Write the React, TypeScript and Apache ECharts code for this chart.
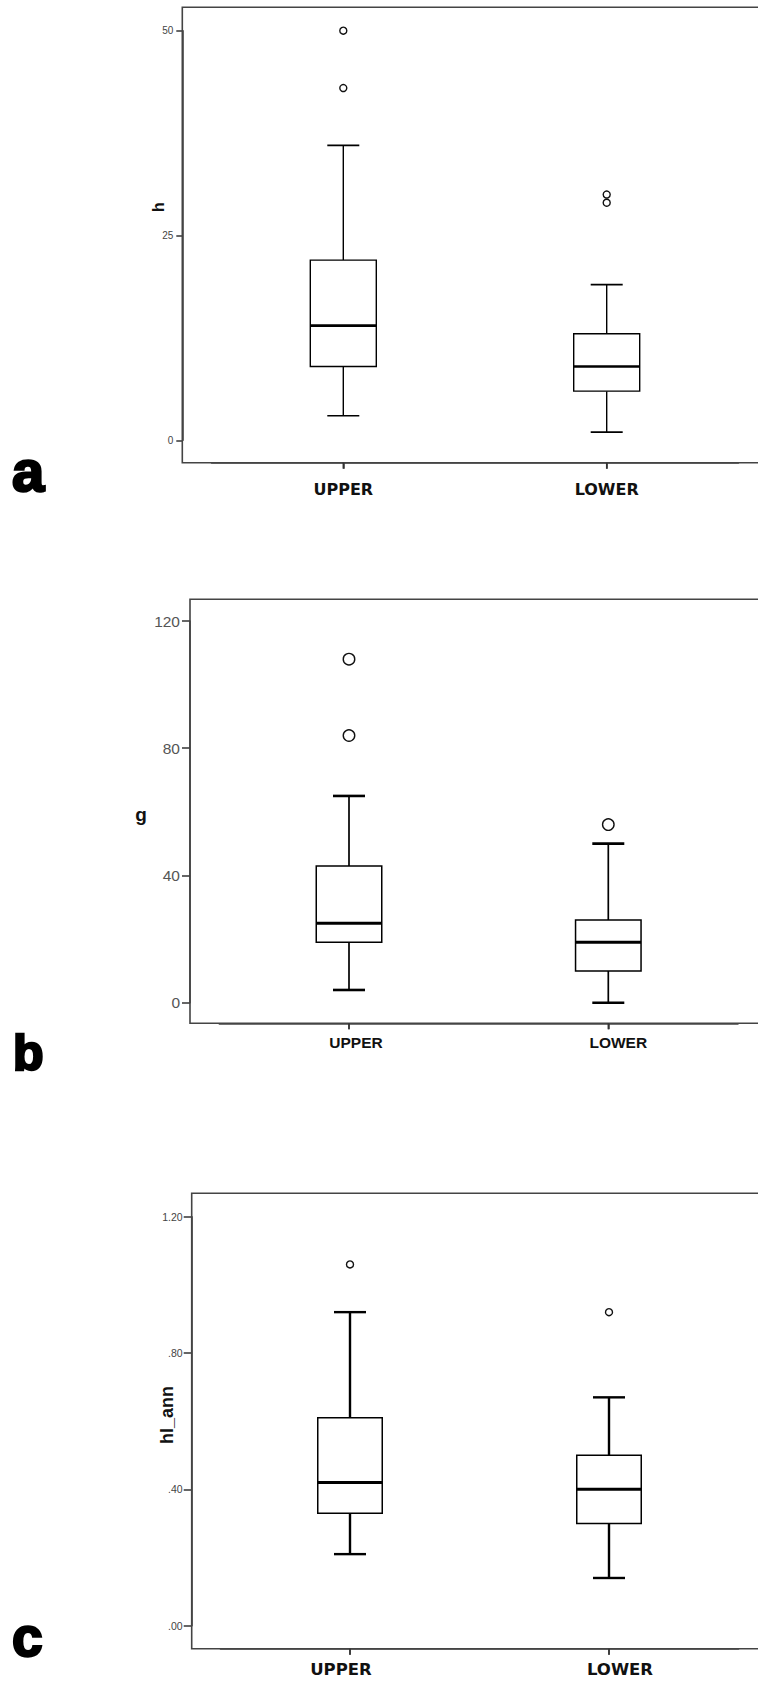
import React, { useEffect, useRef } from "react";
import * as echarts from "echarts";

// ---------- data ----------
const CATEGORIES = ["UPPER", "LOWER"];

// [low whisker, Q1, median, Q3, high whisker] per category
const H_BOX = [
  [3, 9, 14, 22, 36],
  [1, 6, 9, 13, 19],
];
const H_OUTLIERS = [[50, 43], [30, 29]];
const H_TICKS = [0, 25, 50];

const G_BOX = [
  [4, 19, 25, 43, 65],
  [0, 10, 19, 26, 50],
];
const G_OUTLIERS = [[108, 84], [56]];
const G_TICKS = [0, 40, 80, 120];

const HL_BOX = [
  [0.21, 0.33, 0.42, 0.61, 0.92],
  [0.14, 0.3, 0.4, 0.5, 0.67],
];
const HL_OUTLIERS = [[1.06], [0.92]];
const HL_TICKS = [0, 0.4, 0.8, 1.2];

// ---------- layout / style ----------
type Panel = {
  letter: string;
  yName: string;
  box: number[][];
  out: number[][];
  ticks: number[];
  fmt: (v: number) => string;
  frameL: number;
  frameT: number;
  frameB: number;
  gridTop: number;
  gridH: number;
  c0: number;
  c1: number;
  boxW: number;
  capW: number;
  boxLW: number;
  whiskLW: number;
  capLW: number;
  medLW: number;
  symSize: number;
  yLabelSize: number;
  yLabelColor: string;
  yTickLen: number;
  yLabelMargin: number;
  xFont: string;
  xFontSize: number;
  xMargin: number;
  xPads: number[][];
  nameX: number;
  nameY: number;
  nameSize: number;
  nameRot: number;
  letterX: number;
  letterY: number;
  letterSize: number;
};

const PANELS: Panel[] = [
  {
    letter: "a",
    yName: "h",
    box: H_BOX,
    out: H_OUTLIERS,
    ticks: H_TICKS,
    fmt: (v) => String(v),
    frameL: 182.3,
    frameT: 7.3,
    frameB: 462.7,
    gridTop: 30.7,
    gridH: 409.6,
    c0: 343.3,
    c1: 606.7,
    boxW: 66,
    capW: 32,
    boxLW: 1.4,
    whiskLW: 1.4,
    capLW: 1.6,
    medLW: 2.6,
    symSize: 7,
    yLabelSize: 10,
    yLabelColor: "#444",
    yTickLen: 6,
    yLabelMargin: 9,
    xFont: "DejaVu Sans",
    xFontSize: 16,
    xMargin: 19,
    xPads: [[0, 0, 0, 0], [0, 0, 0, 0]],
    nameX: 158,
    nameY: 207,
    nameSize: 16,
    nameRot: Math.PI / 2,
    letterX: 12,
    letterY: 470,
    letterSize: 58,
  },
  {
    letter: "b",
    yName: "g",
    box: G_BOX,
    out: G_OUTLIERS,
    ticks: G_TICKS,
    fmt: (v) => String(v),
    frameL: 190,
    frameT: 599.3,
    frameB: 1023.3,
    gridTop: 621,
    gridH: 381.7,
    c0: 349,
    c1: 608.3,
    boxW: 65.5,
    capW: 32,
    boxLW: 1.5,
    whiskLW: 1.7,
    capLW: 2.6,
    medLW: 3,
    symSize: 11.5,
    yLabelSize: 15.5,
    yLabelColor: "#555",
    yTickLen: 8,
    yLabelMargin: 10,
    xFont: "Liberation Sans",
    xFontSize: 15.5,
    xMargin: 11,
    xPads: [[0, 0, 0, 14], [0, 0, 0, 20]],
    nameX: 141,
    nameY: 814,
    nameSize: 19,
    nameRot: 0,
    letterX: 13,
    letterY: 1053,
    letterSize: 50,
  },
  {
    letter: "c",
    yName: "hl_ann",
    box: HL_BOX,
    out: HL_OUTLIERS,
    ticks: HL_TICKS,
    fmt: (v) => {
      const s = v.toFixed(2);
      return s.startsWith("0") ? s.slice(1) : s;
    },
    frameL: 191.7,
    frameT: 1193.3,
    frameB: 1648.7,
    gridTop: 1216.7,
    gridH: 409,
    c0: 350,
    c1: 609,
    boxW: 64.5,
    capW: 32,
    boxLW: 1.5,
    whiskLW: 2.4,
    capLW: 2.4,
    medLW: 3,
    symSize: 7,
    yLabelSize: 10.5,
    yLabelColor: "#444",
    yTickLen: 8,
    yLabelMargin: 9,
    xFont: "DejaVu Sans",
    xFontSize: 16.5,
    xMargin: 12,
    xPads: [[0, 18, 0, 0], [0, 0, 0, 22]],
    nameX: 167,
    nameY: 1415,
    nameSize: 18,
    nameRot: Math.PI / 2,
    letterX: 12,
    letterY: 1637,
    letterSize: 55,
  },
];

const FRAME_COLOR = "#444";
const X_TICK_LEN = 6;

function makeRender(p: Panel) {
  return (params: any, api: any) => {
    const i = api.value(0);
    const low = api.coord([i, api.value(1)]);
    const q1 = api.coord([i, api.value(2)]);
    const med = api.coord([i, api.value(3)]);
    const q3 = api.coord([i, api.value(4)]);
    const high = api.coord([i, api.value(5)]);
    const cx = med[0];
    const hb = p.boxW / 2;
    const hc = p.capW / 2;
    const stroke = "#000";
    return {
      type: "group",
      children: [
        { type: "line", shape: { x1: cx, y1: q3[1], x2: cx, y2: high[1] }, style: { stroke, lineWidth: p.whiskLW } },
        { type: "line", shape: { x1: cx, y1: q1[1], x2: cx, y2: low[1] }, style: { stroke, lineWidth: p.whiskLW } },
        { type: "line", shape: { x1: cx - hc, y1: high[1], x2: cx + hc, y2: high[1] }, style: { stroke, lineWidth: p.capLW } },
        { type: "line", shape: { x1: cx - hc, y1: low[1], x2: cx + hc, y2: low[1] }, style: { stroke, lineWidth: p.capLW } },
        {
          type: "rect",
          shape: { x: cx - hb, y: q3[1], width: p.boxW, height: q1[1] - q3[1] },
          style: { fill: "#fff", stroke, lineWidth: p.boxLW },
        },
        { type: "line", shape: { x1: cx - hb, y1: med[1], x2: cx + hb, y2: med[1] }, style: { stroke, lineWidth: p.medLW } },
      ],
    };
  };
}

// category tick marks below the frame, positioned by the category axis
function renderXTick(params: any, api: any) {
  const pt = api.coord([api.value(0), 0]);
  return {
    type: "line",
    shape: { x1: pt[0], y1: pt[1], x2: pt[0], y2: pt[1] + X_TICK_LEN },
    style: { stroke: "#333", lineWidth: 1.5 },
  };
}

function buildOption() {
  const grid: any[] = [];
  const xAxis: any[] = [];
  const yAxis: any[] = [];
  const series: any[] = [];
  const graphic: any[] = [];

  PANELS.forEach((p, idx) => {
    const sp = p.c1 - p.c0;
    const gridLeft = p.c0 - sp / 2;
    const gridW = sp * 2;
    const dataG = idx * 3;
    const yG = idx * 3 + 1;
    const xG = idx * 3 + 2;
    const t = p.ticks;
    const yMin = t[0];
    const yMax = t[t.length - 1];
    const yInt = t[1] - t[0];

    grid.push({ left: gridLeft, top: p.gridTop, width: gridW, height: p.gridH });
    grid.push({ left: p.frameL, top: p.gridTop, width: 500, height: p.gridH });
    grid.push({ left: gridLeft, top: p.gridTop, width: gridW, height: p.frameB - p.gridTop });

    xAxis.push({ gridIndex: dataG, type: "category", data: CATEGORIES, boundaryGap: true, show: false });
    xAxis.push({ gridIndex: yG, type: "value", min: 0, max: 1, show: false });
    xAxis.push({
      gridIndex: xG,
      type: "category",
      data: CATEGORIES.map((c, ci) => ({ value: c, textStyle: { padding: p.xPads[ci] } })),
      boundaryGap: true,
      axisLine: { show: true, lineStyle: { color: FRAME_COLOR, width: 1.6 } },
      axisTick: {
        show: true,
        inside: false,
        alignWithLabel: true,
        length: X_TICK_LEN,
        lineStyle: { color: "#333", width: 1.5 },
      },
      axisLabel: {
        show: true,
        margin: p.xMargin,
        fontFamily: p.xFont,
        fontWeight: "bold",
        fontSize: p.xFontSize,
        color: "#111",
      },
      splitLine: { show: false },
    });

    yAxis.push({ gridIndex: dataG, type: "value", min: yMin, max: yMax, interval: yInt, show: false });
    yAxis.push({
      gridIndex: yG,
      type: "value",
      min: yMin,
      max: yMax,
      interval: yInt,
      axisLine: { show: true, lineStyle: { color: FRAME_COLOR, width: 1.6 } },
      axisTick: { show: true, inside: false, length: p.yTickLen, lineStyle: { color: "#333", width: 1.5 } },
      axisLabel: {
        show: true,
        margin: p.yLabelMargin,
        fontFamily: "Liberation Sans",
        fontSize: p.yLabelSize,
        color: p.yLabelColor,
        formatter: (v: number) => p.fmt(v),
      },
      splitLine: { show: false },
    });
    yAxis.push({ gridIndex: xG, type: "value", min: 0, max: 1, show: false });

    series.push({
      type: "custom",
      xAxisIndex: dataG,
      yAxisIndex: dataG,
      renderItem: makeRender(p),
      encode: { x: 0, y: [1, 2, 3, 4, 5] },
      data: p.box.map((b, ci) => [ci, ...b]),
      z: 3,
    });
    const outData: number[][] = [];
    p.out.forEach((arr, ci) => arr.forEach((v) => outData.push([ci, v])));
    series.push({
      type: "scatter",
      xAxisIndex: dataG,
      yAxisIndex: dataG,
      symbol: "circle",
      symbolSize: p.symSize,
      itemStyle: { color: "#fff", borderColor: "#111", borderWidth: 1.4, opacity: 1 },
      data: outData,
      z: 4,
    });
    series.push({
      type: "custom",
      xAxisIndex: xG,
      yAxisIndex: xG,
      renderItem: renderXTick,
      clip: false,
      encode: { x: 0, y: 1 },
      data: CATEGORIES.map((c, ci) => [ci, 0]),
      z: 5,
    });
    graphic.push({
      type: "polyline",
      shape: {
        points: [
          [820, p.frameT],
          [p.frameL, p.frameT],
          [p.frameL, p.frameB],
          [820, p.frameB],
        ],
      },
      style: { stroke: FRAME_COLOR, lineWidth: 1.6, fill: null },
      z: 1,
    });
    graphic.push({
      type: "text",
      x: p.nameX,
      y: p.nameY,
      rotation: p.nameRot,
      style: {
        text: p.yName,
        fontFamily: "Liberation Sans",
        fontWeight: "bold",
        fontSize: p.nameSize,
        fill: "#111",
        align: "center",
        verticalAlign: "middle",
      },
    });
    graphic.push({
      type: "text",
      x: p.letterX,
      y: p.letterY,
      style: {
        text: p.letter,
        fontFamily: "Liberation Sans",
        fontWeight: "bold",
        fontSize: p.letterSize,
        fill: "#000",
        stroke: "#000",
        lineWidth: 2.5,
        align: "left",
        verticalAlign: "middle",
      },
    });
  });

  return {
    animation: false,
    backgroundColor: "#fff",
    grid,
    xAxis,
    yAxis,
    series,
    graphic,
  };
}

export default function App() {
  const ref = useRef<HTMLDivElement>(null);
  useEffect(() => {
    document.body.style.margin = "0";
    if (!ref.current) return;
    const chart = echarts.init(ref.current, undefined, { renderer: "svg" });
    chart.setOption(buildOption() as any);
    return () => chart.dispose();
  }, []);
  return <div ref={ref} style={{ width: 758, height: 1682 }} />;
}
